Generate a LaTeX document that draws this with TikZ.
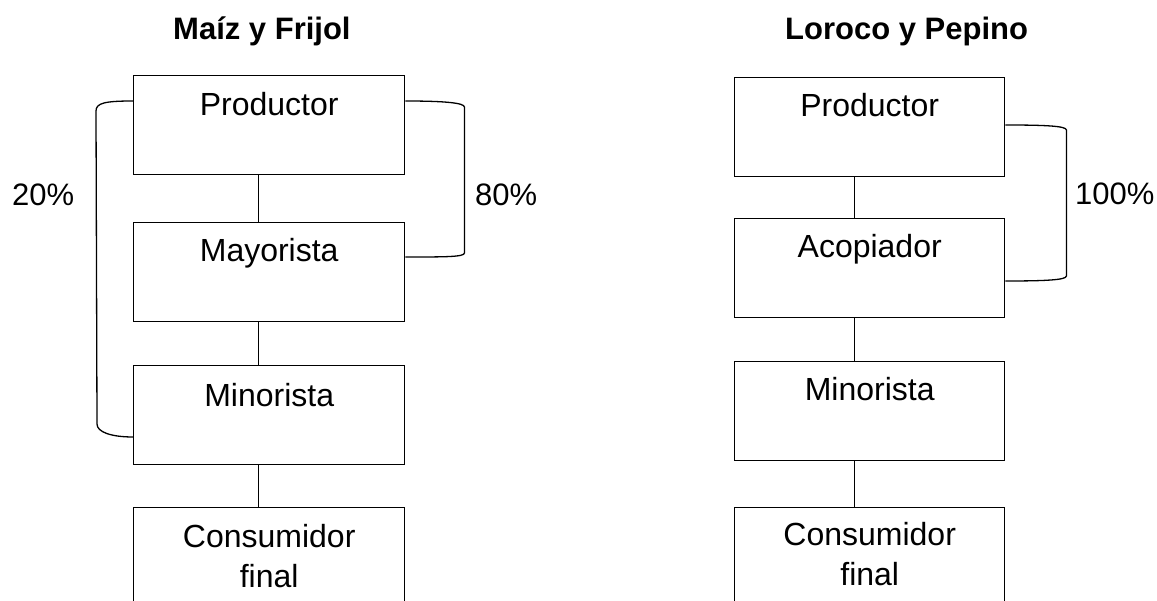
\documentclass[tikz,border=0pt]{standalone}
\usepackage{fontspec}
\setmainfont{Liberation Sans}
\begin{document}
\begin{tikzpicture}[x=1pt,y=-1pt,
  box/.style={draw, line width=1.4pt, minimum width=271pt, minimum height=99pt, inner sep=0pt, anchor=north west},
  lbl/.style={anchor=base, inner sep=0pt, font=\fontsize{32}{38}\selectfont},
  pct/.style={anchor=base west, inner sep=0pt, font=\fontsize{31}{37}\selectfont},
  ttl/.style={anchor=base west, inner sep=0pt, font=\fontsize{31}{37}\selectfont\bfseries},
  link/.style={line width=1.3pt},
]
\useasboundingbox (0,0) rectangle (1157,601);
\clip (0,0) rectangle (1157,601);

% titles
\node[ttl] (t1) at (173,40) {Maíz y Frijol};
\node[ttl] (t2) at (785,40) {Loroco y Pepino};

% left column
\node[box] (lp) at (133,75) {};
\node[box] (lm) at (133,222) {};
\node[box] (ln) at (133,365) {};
\node[box, minimum height=130pt] (lc) at (133,507) {};
\node[lbl] (tlp) at ([yshift=-41pt]lp.north) {Productor};
\node[lbl] (tlm) at ([yshift=-40pt]lm.north) {Mayorista};
\node[lbl] (tln) at ([yshift=-42pt]ln.north) {Minorista};
\node[lbl] (tlc1) at ([yshift=-40pt]lc.north) {Consumidor};
\node[lbl] (tlc2) at ([yshift=-80pt]lc.north) {final};

\draw[link] ([xshift=-10.5pt]lp.south) -- ([xshift=-10.5pt]lm.north);
\draw[link] ([xshift=-10.5pt]lm.south) -- ([xshift=-10.5pt]ln.north);
\draw[link] ([xshift=-10.5pt]ln.south) -- ([xshift=-10.5pt]lc.north);

\draw[link] ([yshift=-26pt]lp.north west) .. controls +(-28,0) and +(0,-8) .. ++(-37,10)
  -- ++(1,313) .. controls +(0,8) and +(-22,0) .. ([yshift=-72pt]ln.north west);
\draw[link] ([yshift=-26pt]lp.north east) .. controls +(40,0) and +(0,-4) .. ++(59,6)
  -- ++(0,146) .. controls +(0,4) and +(40,0) .. ([yshift=-35pt]lm.north east);
\node[pct] (p20) at (12,206) {20\%};
\node[pct] (p80) at (475,206) {80\%};

% right column
\node[box, minimum width=270pt] (rp) at (734,77) {};
\node[box, minimum width=270pt] (rm) at (734,218) {};
\node[box, minimum width=270pt] (rn) at (734,361) {};
\node[box, minimum width=270pt, minimum height=130pt] (rc) at (734,507) {};
\node[lbl] (trp) at ([yshift=-40pt]rp.north) {Productor};
\node[lbl] (trm) at ([yshift=-40pt]rm.north) {Acopiador};
\node[lbl] (trn) at ([yshift=-40pt]rn.north) {Minorista};
\node[lbl] (trc1) at ([yshift=-38pt]rc.north) {Consumidor};
\node[lbl] (trc2) at ([yshift=-78pt]rc.north) {final};

\draw[link] ([xshift=-15pt]rp.south) -- ([xshift=-15pt]rm.north);
\draw[link] ([xshift=-15pt]rm.south) -- ([xshift=-15pt]rn.north);
\draw[link] ([xshift=-15pt]rn.south) -- ([xshift=-15pt]rc.north);

\draw[link] ([yshift=-48pt]rp.north east) .. controls +(40,0) and +(0,-4) .. ++(61,5)
  -- ++(0,146) .. controls +(0,4) and +(40,0) .. ([yshift=-63pt]rm.north east);
\node[pct] (p100) at (1075,205) {100\%};
\end{tikzpicture}
\end{document}
